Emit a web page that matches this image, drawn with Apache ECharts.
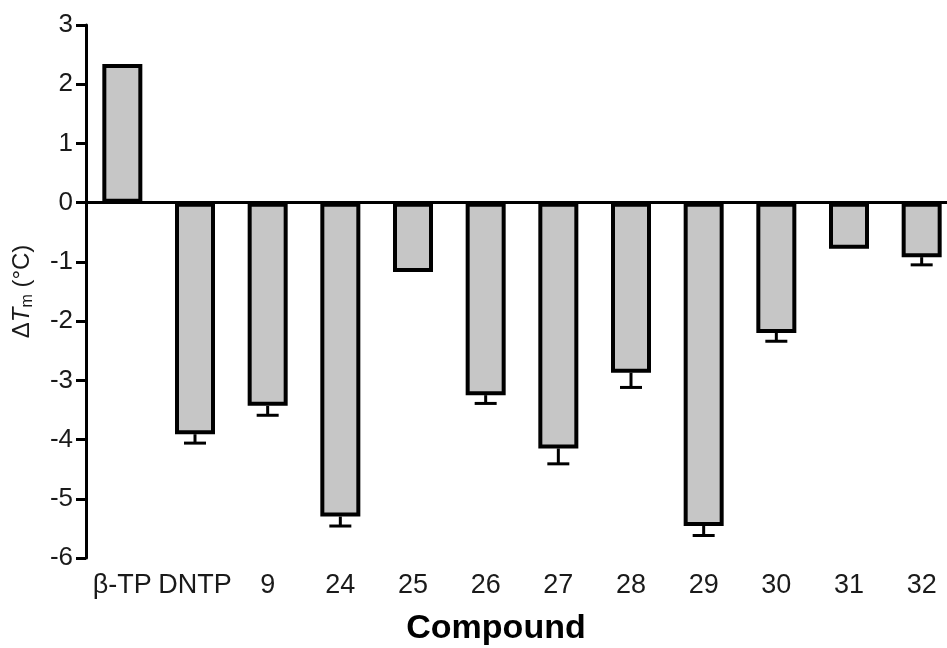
<!DOCTYPE html>
<html>
<head>
<meta charset="utf-8">
<script src="https://cdn.jsdelivr.net/npm/echarts@6/dist/echarts.min.js"></script>
<style>html,body{margin:0;padding:0;background:#fff}#c{width:947px;height:648px}</style>
</head>
<body>
<div id="c"></div>
<script>
const categories = ['β-TP', 'DNTP', '9', '24', '25', '26', '27', '28', '29', '30', '31', '32'];
const deltaTm = [2.34, -3.91, -3.43, -5.30, -1.17, -3.25, -4.15, -2.87, -5.46, -2.20, -0.78, -0.92];
const errors = [null, 0.15, 0.16, 0.16, null, 0.14, 0.26, 0.25, 0.16, 0.14, null, 0.13];
const yTicks = { min: -6, max: 3, interval: 1 };

const FONT = 'Liberation Sans, Arial, sans-serif';
const chart = echarts.init(document.getElementById('c'));
const errData = categories.map((c, i) => [i, deltaTm[i], errors[i]]);

chart.setOption({
  animation: false,
  backgroundColor: '#fff',
  grid: { left: 86, top: 25, width: 872, height: 533, containLabel: false, outerBoundsMode: 'none' },
  xAxis: {
    type: 'category',
    data: categories,
    name: 'Compound',
    nameLocation: 'middle',
    nameGap: 54,
    nameTextStyle: { fontFamily: FONT, fontSize: 34, fontWeight: 'bold', color: '#000', padding: [0, 52, 0, 0] },
    axisLine: { lineStyle: { color: '#000', width: 3 } },
    axisTick: { alignWithLabel: true, length: 10, lineStyle: { color: '#000', width: 3 } },
    axisLabel: { fontFamily: FONT, fontSize: 27, color: '#1a1a1a', margin: 14, interval: 0 },
    splitLine: { show: false }
  },
  yAxis: {
    type: 'value',
    min: yTicks.min, max: yTicks.max, interval: yTicks.interval,
    name: '{d|Δ}{i|T}{s|m}{d| (°C)}',
    nameLocation: 'middle',
    nameRotate: 90,
    nameGap: 50,
    nameTextStyle: {
      rich: {
        d: { fontFamily: FONT, fontSize: 24, color: '#1a1a1a', lineHeight: 28, verticalAlign: 'middle' },
        i: { fontFamily: FONT, fontSize: 24, fontStyle: 'italic', color: '#1a1a1a', lineHeight: 28, verticalAlign: 'middle' },
        s: { fontFamily: FONT, fontSize: 16, color: '#1a1a1a', lineHeight: 14, verticalAlign: 'bottom' }
      }
    },
    axisLine: { show: true, lineStyle: { color: '#000', width: 3 } },
    axisTick: { show: true, length: 10, lineStyle: { color: '#000', width: 3 } },
    axisLabel: { fontFamily: FONT, fontSize: 26, color: '#1a1a1a', margin: 13 },
    splitLine: { show: false }
  },
  series: [
    {
      type: 'bar',
      data: deltaTm,
      barWidth: 40,
      itemStyle: { color: '#c6c6c6', borderColor: '#000', borderWidth: 4 },
      markLine: {
        silent: true,
        symbol: 'none',
        label: { show: false },
        lineStyle: { color: '#000', width: 2, type: 'solid' },
        data: [{ yAxis: 0 }]
      },
      z: 2
    },
    {
      type: 'custom',
      data: errData,
      z: 3,
      renderItem: function (params, api) {
        const e = api.value(2);
        if (e == null || isNaN(e)) return null;
        const i = api.value(0), v = api.value(1);
        const p1 = api.coord([i, v]);
        const p2 = api.coord([i, v - e]);
        const st = { stroke: '#000', lineWidth: 3 };
        return {
          type: 'group',
          children: [
            { type: 'line', shape: { x1: p1[0], y1: p1[1], x2: p2[0], y2: p2[1] }, style: st },
            { type: 'line', shape: { x1: p2[0] - 11, y1: p2[1], x2: p2[0] + 11, y2: p2[1] }, style: st }
          ]
        };
      }
    }
  ]
});
</script>
</body>
</html>
